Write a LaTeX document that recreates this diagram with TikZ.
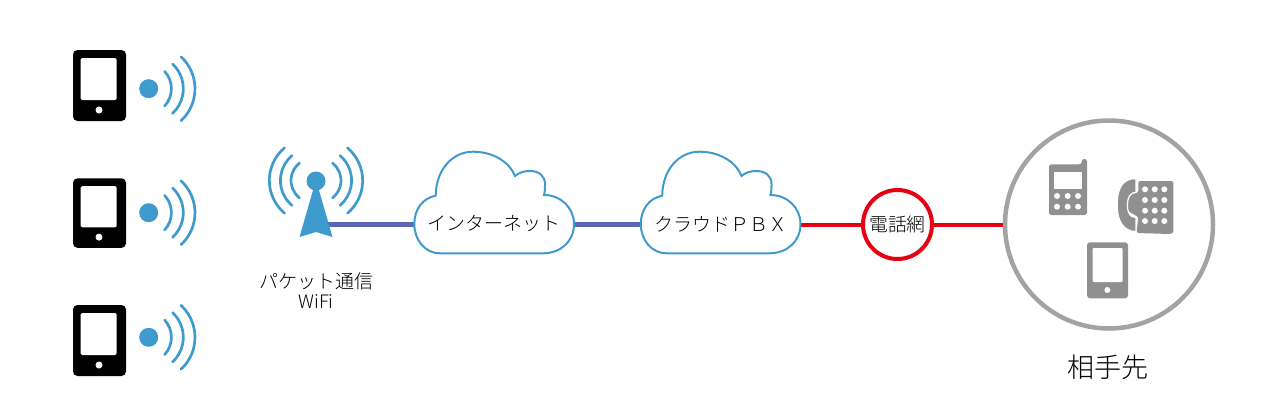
\documentclass[tikz,border=0pt]{standalone}
\usepackage{fontspec}
\setmainfont{Noto Sans CJK JP Light}
\definecolor{sky}{HTML}{3F9BCE}
\definecolor{wire}{HTML}{5B67B3}
\definecolor{alert}{HTML}{E60012}
\definecolor{ring}{HTML}{A3A3A3}
\definecolor{icon}{HTML}{909090}
\newcommand{\px}[1]{\fontsize{#1}{#1}\selectfont}
\tikzset{
  wave/.style={draw=sky,line width=2.7pt,line cap=round,fill=none},
  blob/.style={fill=sky,draw=none},
  cloudline/.style={draw=sky,line width=2pt,fill=white},
  wirelink/.style={draw=wire,line width=4.5pt},
  redlink/.style={draw=alert,line width=4pt},
  label/.style={inner sep=0pt,text=black,align=center},
  tag/.style={label,minimum width=#1,minimum height=10pt},
  pics/handset/.style n args={3}{code={
    \fill[black,rounded corners=4.5pt] (73,#1) rectangle (126,#1+71*#3);
    \fill[white,rounded corners=1.5pt] (80.7,#1+8*#3) rectangle (116.7,#1+50*#3);
    \fill[white] (99,#1+60*#3) circle (3.5);
    \fill[blob] (148.7,#2) circle (9.5);
    \draw[wave] (146,#2)++(-43:25.4) arc[start angle=-43,end angle=43,radius=25.4];
    \draw[wave] (149.5,#2)++(-47:33.8) arc[start angle=-47,end angle=47,radius=33.8];
    \draw[wave] (151.4,#2)++(-47:43.6) arc[start angle=-47,end angle=47,radius=43.6];
  }},
  pics/puffy/.style={code={
    \draw[cloudline]
      (440,253.3) .. controls (425,253.3) and (414.3,240) .. (414.3,224)
      .. controls (414.3,209) and (423,198) .. (435.7,195.7)
      .. controls (436,170) and (452,151.7) .. (473,151.7)
      .. controls (492,151.7) and (509,161) .. (515,176)
      .. controls (519,172.5) and (524,171) .. (530,171)
      .. controls (539,171) and (545,176) .. (545,184)
      .. controls (545,188) and (545,192) .. (544,195)
      .. controls (561,195) and (574,208) .. (574,224)
      .. controls (574,241) and (561,253.3) .. (543,253.3)
      -- cycle;
  }}
}
\begin{document}
\begin{tikzpicture}[x=1pt,y=-1pt]
\useasboundingbox (0,0) rectangle (1279,400);
% anchors for the links
\coordinate (mast) at (328,224.5);
\node[tag=160pt] (inet) at (494,224.5) {};
\node[tag=160pt] (pbx) at (720.5,224.5) {};
\node[circle,minimum size=71pt,inner sep=0pt] (pstn) at (897.5,224.5) {};
\node[circle,minimum size=208pt,inner sep=0pt] (peer) at (1109,224.5) {};
% links
\draw[wirelink] (mast) -- (inet.west);
\draw[wirelink] (inet.east) -- (pbx.west);
\draw[redlink] (pbx.east) -- (pstn.west);
\draw[redlink] (pstn.east) -- (peer.west);
% handsets with radio waves
\pic {handset={50}{88.7}{1}};
\pic {handset={178.3}{212.7}{0.98}};
\pic {handset={305}{337.3}{1}};
% antenna mast
\fill[blob] (316,181) circle (9.5);
\fill[blob] (316,180) -- (332.5,237) -- (316,232) -- (299.5,237) -- cycle;
\foreach \r/\a/\o in {22/52/3,32.6/50/3,42.7/50/4}{
  \draw[wave] (316+\o,180.5)++(-\a:\r) arc[start angle=-\a,end angle=\a,radius=\r];
  \draw[wave] (316-\o,180.5)++(180-\a:\r) arc[start angle=180-\a,end angle=180+\a,radius=\r];
}
\node[label] (mastlabel) at (316,281) {\px{19}パケット通信};
\node[label] (wifi) at (316,302) {\px{18.5}WiFi};
% clouds
\pic {puffy};
\begin{scope}[xshift=226.5pt]
\pic {puffy};
\end{scope}
\node[label] (inettext) at (494,224) {\px{19}インターネット};
\node[label] (pbxtext) at (720.5,224) {\px{19}クラウドＰＢＸ};
% telephone network
\draw[draw=alert,line width=4pt,fill=white] (pstn.center) circle (34.5);
\node[label] (pstntext) at (897.5,224) {\px{18.8}電話網};
% far end
\draw[draw=ring,line width=4.5pt,fill=white] (peer.center) circle (104);
\node[label] (peertext) at (1108,367) {\px{27}相手先};
% feature phone
\fill[icon,rounded corners=2.5pt] (1049,164.3) -| (1081.7,159) -- (1087,159) |- (1049,215) -- cycle;
\fill[white] (1054,171.7) rectangle (1081.7,189.3);
\foreach \x in {1057,1067.7,1078}\foreach \y in {196,206.7}\fill[white] (\x,\y) circle (3);
% desk phone: base reaching into the handset's hollow
\fill[icon,rounded corners=1.5pt] (1138.3,181) -- (1173.3,181) -- (1173.3,233) -- (1170,234)
  -- (1136.5,233) -- (1138.3,217) -- (1128,211) -- (1128,195) -- (1138.3,192.5) -- cycle;
\fill[icon,draw=white,line width=1.2pt]
  (1136,178.6) .. controls (1124,178.6) and (1117.2,186) .. (1117.2,205)
  .. controls (1117.2,222) and (1124,231.5) .. (1136,231.5)
  -- (1136,217.5) .. controls (1130,217.5) and (1127.4,213) .. (1127.4,205)
  .. controls (1127.4,198) and (1130,192.2) .. (1136,192.2) -- cycle;
\foreach \x in {1145,1154.7,1164.3}\foreach \y in {189.3,200,210.7,221}\fill[white] (\x,\y) circle (3);
% tablet
\fill[icon,rounded corners=3pt] (1087,242.3) rectangle (1128,298.3);
\fill[white,rounded corners=1pt] (1092.7,248) rectangle (1122.7,282);
\fill[white] (1107.3,290) circle (3);
\end{tikzpicture}
\end{document}
